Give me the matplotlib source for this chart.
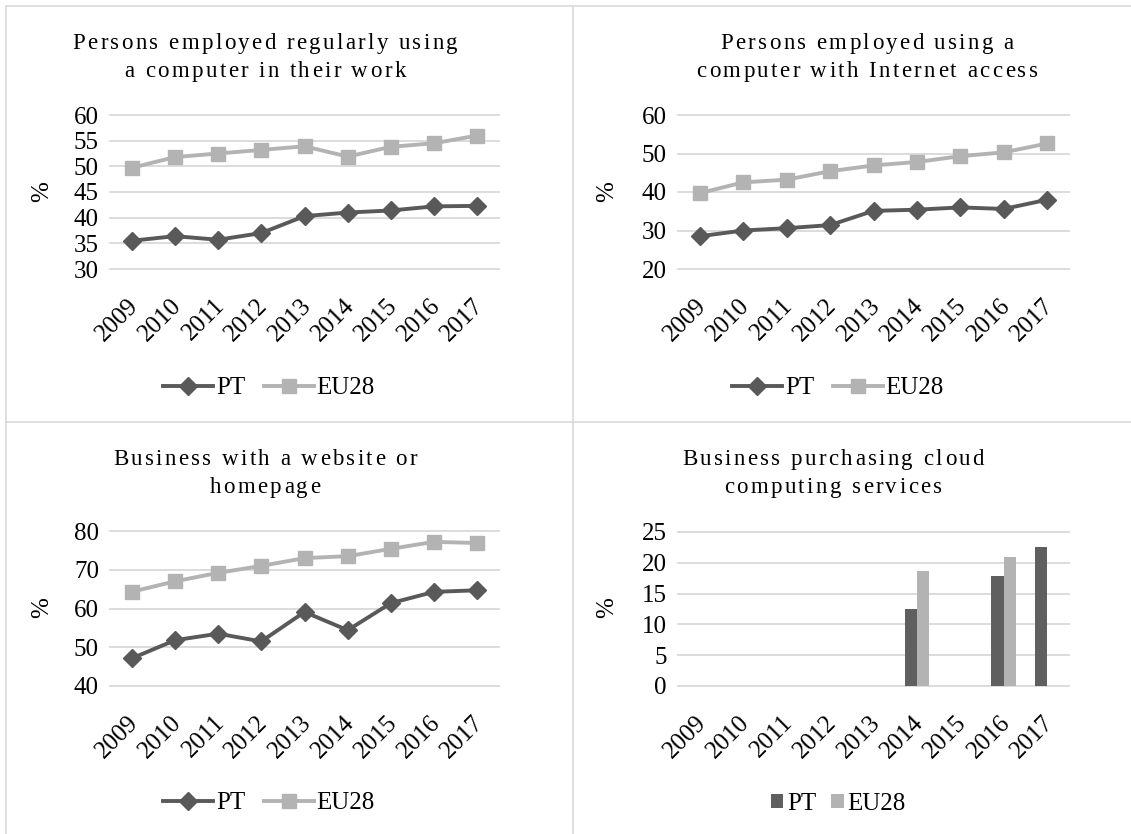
import numpy as np
import matplotlib
matplotlib.use("Agg")
import matplotlib.pyplot as plt
from matplotlib.lines import Line2D
from matplotlib.transforms import ScaledTranslation
from matplotlib import font_manager
from matplotlib.ft2font import FT2Font

plt.rcParams['font.family'] = ['Liberation Serif', 'DejaVu Serif']

W, H = 1131, 834
DPI = 100

years = ['2009', '2010', '2011', '2012', '2013', '2014', '2015', '2016', '2017']

# % of persons employed
pc_pt = [35.5, 36.4, 35.7, 37.0, 40.3, 41.0, 41.4, 42.2, 42.3]
pc_eu = [49.7, 51.8, 52.5, 53.2, 53.9, 51.9, 53.8, 54.5, 56.0]
net_pt = [28.5, 30.0, 30.6, 31.4, 35.1, 35.4, 36.0, 35.6, 38.0]
net_eu = [39.7, 42.5, 43.2, 45.4, 46.9, 47.8, 49.3, 50.3, 52.6]

# % of businesses
web_pt = [47.1, 51.8, 53.5, 51.5, 59.1, 54.4, 61.4, 64.3, 64.7]
web_eu = [64.3, 67.0, 69.2, 71.0, 73.0, 73.5, 75.4, 77.2, 76.9]
cloud_pt = [np.nan, np.nan, np.nan, np.nan, np.nan, 12.5, np.nan, 17.9, 22.6]
cloud_eu = [np.nan, np.nan, np.nan, np.nan, np.nan, 18.6, np.nan, 20.9, np.nan]

DARK = '#595959'
LIGHT = '#b3b3b3'
GRID = '#d9d9d9'
TICK_FS = 18
TITLE_FS = 16.5
TRACK = 2.4  # extra px between title letters

_font = FT2Font(font_manager.findfont(font_manager.FontProperties(family='Liberation Serif')))
_font.set_size(TITLE_FS, DPI)


def advance(c):
    return _font.load_char(ord(c)).linearHoriAdvance / 65536


def px(x, y):
    return x / W, 1 - y / H


def make_axes(x0, y0, x1, y1):
    l, t = px(x0, y0)
    r, b = px(x1, y1)
    return fig.add_axes([l, b, r - l, t - b])


def style(ax, ticks):
    ax.set_xlim(-0.5, len(years) - 0.5)
    ax.set_ylim(ticks[0], ticks[-1])
    ax.set_yticks(ticks)
    ax.set_xticks(range(len(years)))
    ax.set_xticklabels(years, rotation=45, ha='right', va='center',
                       rotation_mode='anchor', fontsize=TICK_FS)
    ax.tick_params(axis='both', length=0, labelsize=TICK_FS)
    ax.tick_params(axis='y', pad=8)
    ax.tick_params(axis='x', pad=24)
    for lbl in ax.get_xticklabels():
        lbl.set_transform(lbl.get_transform() +
                          ScaledTranslation(3 / DPI, 0, fig.dpi_scale_trans))
    for s in ax.spines.values():
        s.set_visible(False)
    ax.yaxis.grid(True, color=GRID, linewidth=1.3)
    ax.set_axisbelow(True)
    for gl in ax.yaxis.get_gridlines():
        gl.set_clip_on(False)


def titles(x, y, lines):
    # letter-spaced title, one glyph at a time
    for i, line in enumerate(lines):
        adv = [advance(c) for c in line]
        total = sum(adv) + TRACK * (len(line) - 1)
        cx = x - total / 2
        for c, a in zip(line, adv):
            if c != ' ':
                fx, fy = px(cx, y + i * 28)
                fig.text(fx, fy, c, ha='left', va='baseline', fontsize=TITLE_FS)
            cx += a + TRACK


def ylabel(x, y):
    fx, fy = px(x, y)
    fig.text(fx, fy, '%', rotation=90, ha='center', va='center',
             fontsize=TICK_FS)


def line_panel(ax, pt, eu, ticks, leg_x, leg_y):
    x = np.arange(len(years))
    ax.plot(x, pt, color=DARK, lw=2.8, marker='D', ms=9, label='PT')
    ax.plot(x, eu, color=LIGHT, lw=2.8, marker='s', ms=9.5, label='EU28')
    style(ax, ticks)
    fig.legend(*ax.get_legend_handles_labels(), loc='center',
               bbox_to_anchor=px(leg_x, leg_y), ncol=2, frameon=False,
               fontsize=TICK_FS, handlelength=2.0, handletextpad=0.1,
               columnspacing=0.75, numpoints=1)


fig = plt.figure(figsize=(W / DPI, H / DPI), dpi=DPI)

# cell borders
for xs, ys in [([6, W], [6, 6]), ([6, 6], [6, H]),
               ([573, 573], [6, H]), ([6, W], [422, 422])]:
    fx = [v / W for v in xs]
    fy = [1 - v / H for v in ys]
    fig.add_artist(Line2D(fx, fy, color=GRID, lw=1.2))

ax1 = make_axes(110, 115, 499, 269)
line_panel(ax1, pc_pt, pc_eu, np.arange(30, 61, 5), 269, 388)
titles(265, 49, ['Persons employed regularly using', 'a computer in their work'])
ylabel(42, 192)

ax2 = make_axes(678, 115, 1069, 269)
line_panel(ax2, net_pt, net_eu, np.arange(20, 61, 10), 838, 388)
titles(867, 49, ['Persons employed using a', 'computer with Internet access'])
ylabel(607, 192)

ax3 = make_axes(110, 531, 499, 686)
line_panel(ax3, web_pt, web_eu, np.arange(40, 81, 10), 269, 803)
titles(265, 465, ['Business with a website or', 'homepage'])
ylabel(42, 608)

ax4 = make_axes(678, 532, 1069, 686)
xb = np.arange(len(years))
bw = 0.285
ax4.bar(xb - bw / 2, cloud_pt, width=bw, color='#5f5f5f', label='PT')
ax4.bar(xb + bw / 2, cloud_eu, width=bw, color=LIGHT, label='EU28')
style(ax4, np.arange(0, 26, 5))
fig.legend(*ax4.get_legend_handles_labels(), loc='center',
           bbox_to_anchor=px(838, 804), ncol=2, frameon=False,
           fontsize=TICK_FS, handlelength=0.5, handleheight=0.5,
           handletextpad=0.15, columnspacing=0.6)
titles(833, 465, ['Business purchasing cloud', 'computing services'])
ylabel(607, 608)

fig.savefig('out.png', dpi=DPI)
